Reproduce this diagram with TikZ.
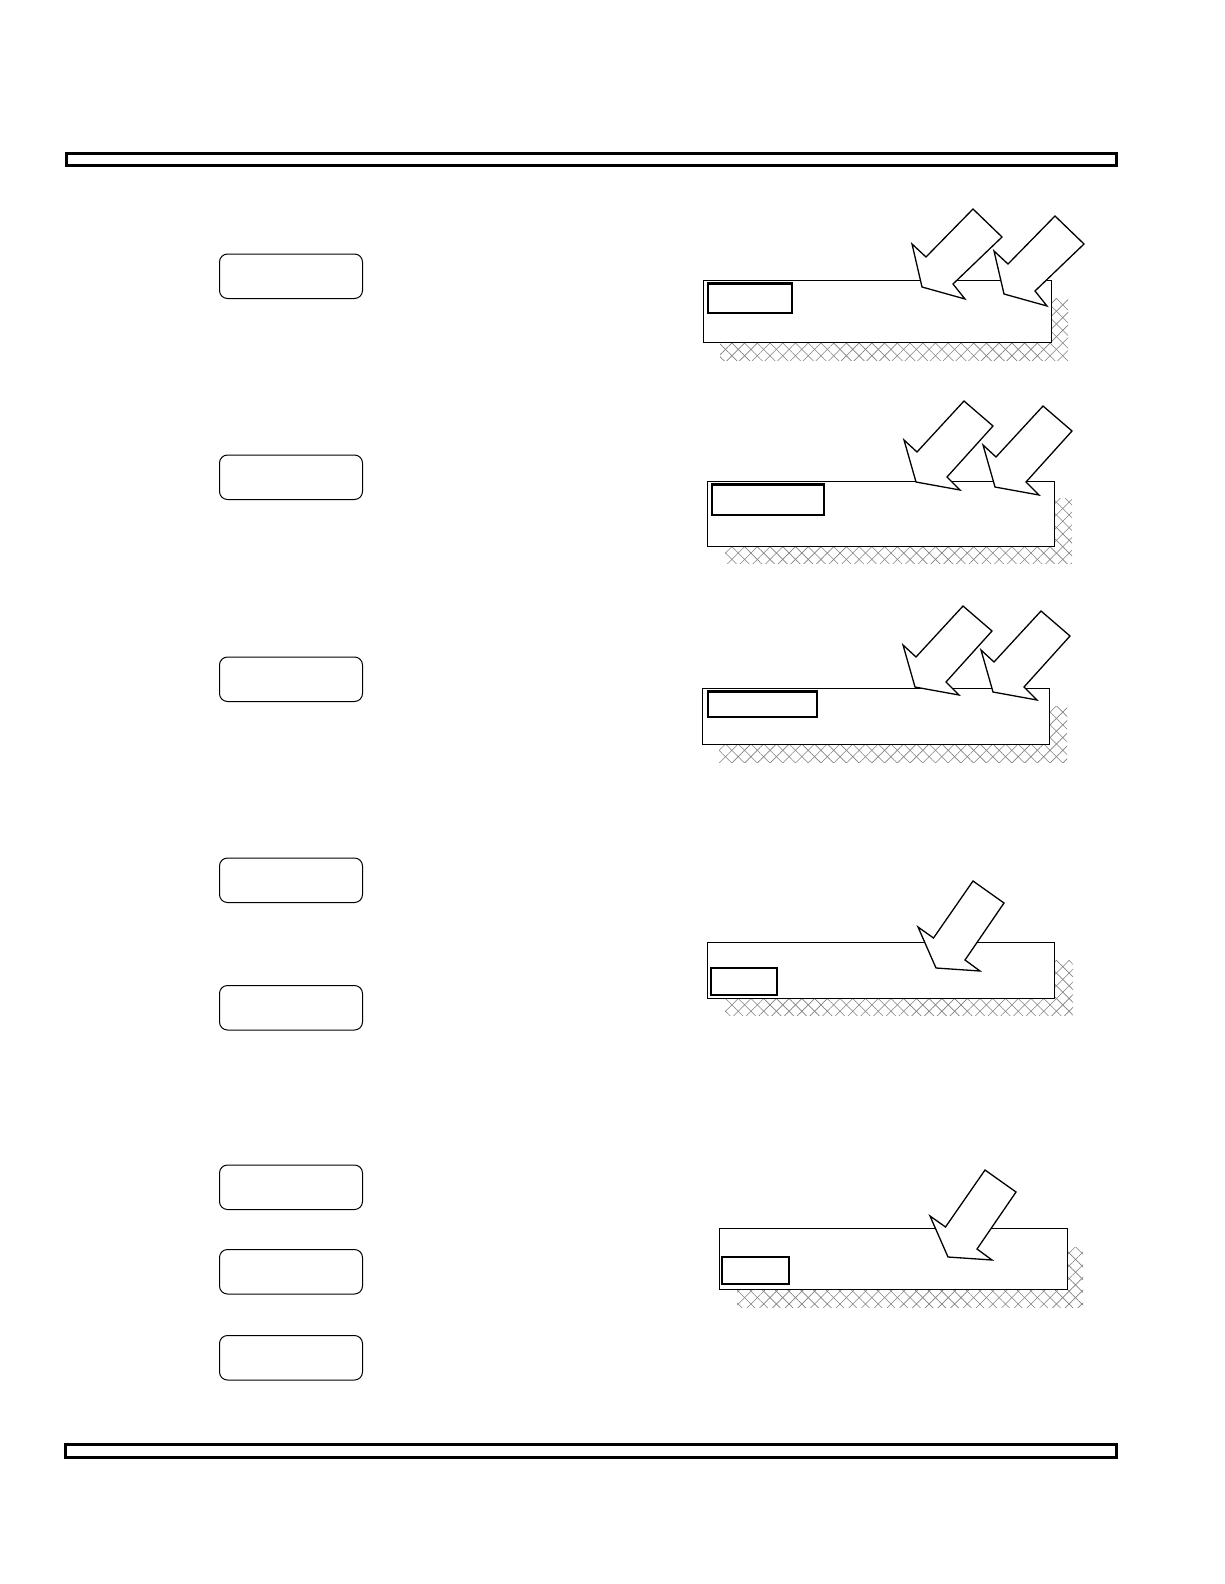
\documentclass[tikz,border=0pt]{standalone}
\usetikzlibrary{patterns.meta}
\begin{document}
\begin{tikzpicture}[x=1pt,y=-1pt,
  rbox/.style={draw, rounded corners=8pt, line width=1pt, minimum width=143pt, minimum height=44.5pt, inner sep=0pt, anchor=north west},
  bar/.style={draw, line width=3pt},
  panelrect/.style={draw, fill=white, line width=1pt},
  innerthick/.style={draw, line width=2.5pt},
  innerthin/.style={draw, line width=1.1pt},
  blockarrow/.style={draw, fill=white, line width=1.3pt, line join=miter},
  hatchA/.style={pattern={Lines[angle=45,distance=9pt,line width=0.6pt]}, pattern color=black!50},
  hatchB/.style={pattern={Lines[angle=-45,distance=9pt,line width=0.6pt]}, pattern color=black!50},
  arrowwide/.pic={\path[blockarrow] (51,-78) -- (80,-50) -- (31,-3) -- (43,12) -- (0,0) -- (-10,-43) -- (4,-30) -- cycle;},
  arrowmid/.pic={\path[blockarrow] (48,-81) -- (77,-56) -- (31,-5) -- (44,8) -- (0,0) -- (-12,-42) -- (1,-30) -- cycle;},
  arrowsteep/.pic={\path[blockarrow] (37,-87) -- (68,-65) -- (29,-8) -- (44,3) -- (0,0) -- (-18,-41) -- (-2.5,-30) -- cycle;}
]
\useasboundingbox (0,0) rectangle (1224,1584);

% bars
\path[bar] (66,153) rectangle (1116,165);
\path[bar] (65,1444) rectangle (1116,1457);

% rounded boxes
\node[rbox] (b1) at (219,253.5) {};
\node[rbox] (b2) at (219,454.5) {};
\node[rbox] (b3) at (219,656.5) {};
\node[rbox] (b4) at (219,857.5) {};
\node[rbox] (b5) at (219,985) {};
\node[rbox] (b6) at (219,1164.5) {};
\node[rbox] (b7) at (219,1249) {};
\node[rbox] (b8) at (219,1335) {};

% panel 1
\fill[hatchA] (720,298) rectangle (1068,360);
\fill[hatchB] (720,298) rectangle (1068,360);
\path[panelrect] (703,280) rectangle (1051,342);
\path[innerthick] (708,283.5) rectangle (792,313);
\pic at (922,287) {arrowwide};
\pic at (1004,294) {arrowwide};

% panel 2
\fill[hatchA] (725,498) rectangle (1072,563);
\fill[hatchB] (725,498) rectangle (1072,563);
\path[panelrect] (707,481) rectangle (1054,546);
\path[innerthick] (712,484.5) rectangle (824,515);
\pic at (916,482) {arrowmid};
\pic at (995,487) {arrowmid};

% panel 3
\fill[hatchA] (719,706) rectangle (1067,762);
\fill[hatchB] (719,706) rectangle (1067,762);
\path[panelrect] (702,688) rectangle (1049,744);
\path[innerthick] (708,691.5) rectangle (817,717);
\pic at (915,687) {arrowmid};
\pic at (993,692) {arrowmid};

% panel 4
\fill[hatchA] (725,960) rectangle (1073,1015);
\fill[hatchB] (725,960) rectangle (1073,1015);
\path[panelrect] (707,942) rectangle (1054,998);
\path[innerthin] (711,968) rectangle (777,995);
\pic at (936,968) {arrowsteep};

% panel 5
\fill[hatchA] (737,1247) rectangle (1083,1307);
\fill[hatchB] (737,1247) rectangle (1083,1307);
\path[panelrect] (719,1228) rectangle (1067,1289);
\path[innerthin] (722,1257) rectangle (789,1284);
\draw[line width=2.5pt] (721,1284) -- (790,1284);
\pic at (948,1257) {arrowsteep};
\end{tikzpicture}
\end{document}
